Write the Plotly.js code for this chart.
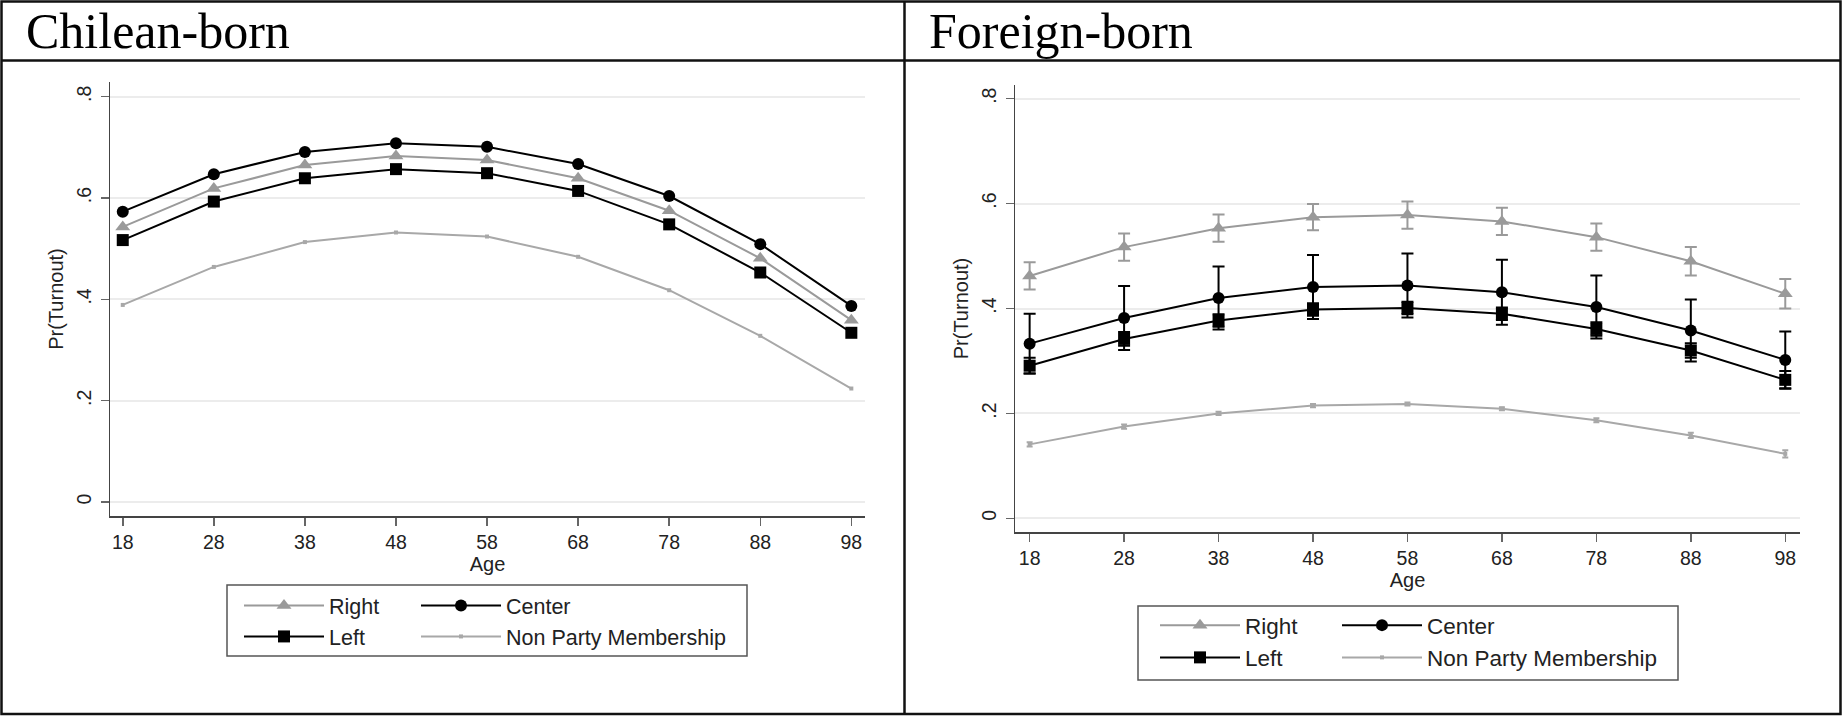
<!DOCTYPE html>
<html>
<head>
<meta charset="utf-8">
<script src="https://cdn.plot.ly/plotly-3.0.1.min.js"></script>
<style>
  html, body { margin: 0; padding: 0; background: #fff; }
  #chart { width: 1842px; height: 716px; }
</style>
</head>
<body>
<div id="chart"></div>
<script>
// predicted turnout by age and party membership
const ages = [18, 28, 38, 48, 58, 68, 78, 88, 98];
const ageTicks = ["18", "28", "38", "48", "58", "68", "78", "88", "98"];
const probTicks = [0, 0.2, 0.4, 0.6, 0.8];
const probTickText = ["0", ".2", ".4", ".6", ".8"];
const seriesNames = ["Right", "Center", "Left", "Non Party Membership"];
const panelTitles = ["Chilean-born", "Foreign-born"];

// Chilean-born
const rightCl = [0.543, 0.619, 0.665, 0.683, 0.675, 0.639, 0.575, 0.481, 0.359];
const centerCl = [0.573, 0.647, 0.691, 0.708, 0.701, 0.667, 0.604, 0.509, 0.387];
const leftCl = [0.517, 0.593, 0.639, 0.657, 0.649, 0.614, 0.548, 0.453, 0.334];
const nonPartyCl = [0.389, 0.464, 0.513, 0.532, 0.524, 0.484, 0.418, 0.328, 0.224];

// Foreign-born, with CI half-widths
const rightFb = [0.462, 0.517, 0.553, 0.574, 0.578, 0.566, 0.536, 0.490, 0.428];
const rightFbErr = [0.026, 0.026, 0.026, 0.025, 0.026, 0.026, 0.026, 0.027, 0.028];
const centerFb = [0.333, 0.382, 0.420, 0.441, 0.444, 0.431, 0.403, 0.358, 0.302];
const centerFbErr = [0.057, 0.061, 0.060, 0.061, 0.061, 0.062, 0.060, 0.059, 0.054];
const leftFb = [0.291, 0.342, 0.377, 0.398, 0.401, 0.390, 0.361, 0.320, 0.264];
const leftFbErr = [0.015, 0.013, 0.012, 0.012, 0.012, 0.012, 0.013, 0.014, 0.017];
const nonPartyFb = [0.141, 0.175, 0.200, 0.215, 0.218, 0.209, 0.187, 0.158, 0.123];
const nonPartyFbErr = [0.004, 0.004, 0.003, 0.003, 0.003, 0.003, 0.004, 0.005, 0.007];

const W = 1842, H = 716;
const px = x => x / W;          // pixel -> paper x
const py = y => (H - y) / H;    // pixel (from top) -> paper y

const gray = "#9a9a9a";
const lightGray = "#a8a8a8";
const black = "#000";

const styles = [
  { color: gray, symbol: "triangle-up", size: 13 },
  { color: black, symbol: "circle", size: 12 },
  { color: black, symbol: "square", size: 12 },
  { color: lightGray, symbol: "square", size: 4 }
];
// legend column for each series: Right/Left in col 1, Center/Non Party in col 2
const legendCol = [0, 1, 0, 1];

function makeTrace(idx, y, err, panel) {
  const s = styles[idx];
  const legendIds = panel === 0 ? ["legend", "legend2"] : ["legend3", "legend4"];
  const t = {
    x: ages,
    y: y,
    type: "scatter",
    mode: "lines+markers",
    name: seriesNames[idx],
    xaxis: panel === 0 ? "x" : "x2",
    yaxis: panel === 0 ? "y" : "y2",
    legend: legendIds[legendCol[idx]],
    line: { color: s.color, width: 2 },
    marker: { color: s.color, symbol: s.symbol, size: s.size, line: { width: 0 } },
    hoverinfo: "x+y+name"
  };
  if (err) {
    t.error_y = { type: "data", array: err, visible: true, color: s.color, thickness: 2, width: idx === 3 ? 3 : 6 };
  }
  return t;
}

// draw order keeps Left above the Center whiskers
const traces = [
  makeTrace(3, nonPartyCl, null, 0),
  makeTrace(0, rightCl, null, 0),
  makeTrace(1, centerCl, null, 0),
  makeTrace(2, leftCl, null, 0),
  makeTrace(3, nonPartyFb, nonPartyFbErr, 1),
  makeTrace(0, rightFb, rightFbErr, 1),
  makeTrace(1, centerFb, centerFbErr, 1),
  makeTrace(2, leftFb, leftFbErr, 1)
];
// legend item order: put Right before Left, Center before Non Party
traces.forEach(t => { t.legendrank = seriesNames.indexOf(t.name); });

const tickFont = { family: "Liberation Sans, Arial, sans-serif", size: 19.5, color: "#222" };
const titleFont = { family: "Liberation Sans, Arial, sans-serif", size: 20, color: "#222" };

function xAxis(domain, range, anchor) {
  return {
    domain: domain, range: range, anchor: anchor,
    tickmode: "array", tickvals: ages, ticktext: ageTicks,
    ticks: "outside", ticklen: 8, tickwidth: 1.5, tickcolor: "#666",
    showline: true, linecolor: "#444", linewidth: 1.5,
    showgrid: false, zeroline: false,
    tickfont: tickFont,
    title: { text: "Age", font: titleFont, standoff: 1 },
    fixedrange: true
  };
}
function yAxis(domain, range, anchor) {
  return {
    domain: domain, range: range, anchor: anchor,
    tickmode: "array", tickvals: probTicks, ticktext: probTickText,
    tickangle: -90,
    ticks: "outside", ticklen: 8, tickwidth: 1.5, tickcolor: "#666",
    showline: true, linecolor: "#444", linewidth: 1.5,
    showgrid: true, gridcolor: "#ececec", gridwidth: 2, zeroline: false,
    tickfont: tickFont, ticklabelstandoff: 2,
    title: { text: "Pr(Turnout)", font: titleFont, standoff: 3 },
    fixedrange: true
  };
}

function legendAt(xPix, yPix, size) {
  return {
    x: px(xPix), y: py(yPix), xanchor: "left", yanchor: "top",
    orientation: "v", bgcolor: "rgba(0,0,0,0)", borderwidth: 0,
    itemwidth: 80, itemclick: false, itemdoubleclick: false,
    font: { family: "Liberation Sans, Arial, sans-serif", size: size, color: "#222" }
  };
}

const borderLine = { color: "#111", width: 2.5 };
const layout = {
  width: W, height: H,
  margin: { l: 0, r: 0, t: 0, b: 0, pad: 0 },
  paper_bgcolor: "#fff", plot_bgcolor: "#fff",
  showlegend: true,
  xaxis: xAxis([px(110), px(865)], [16.6, 99.5], "y"),
  yaxis: yAxis([py(516), py(82)], [-0.0276, 0.829], "x"),
  xaxis2: xAxis([px(1015), px(1800)], [16.45, 99.56], "y2"),
  yaxis2: yAxis([py(532), py(85)], [-0.026, 0.826], "x2"),
  legend: legendAt(239, 585, 21.5),
  legend2: legendAt(416, 585, 21.5),
  legend3: legendAt(1155, 604, 22.5),
  legend4: legendAt(1337, 604, 22.5),
  annotations: panelTitles.map((t, i) => ({
    text: t, xref: "paper", yref: "paper",
    x: px(i === 0 ? 24 : 927), y: py(31), xanchor: "left", yanchor: "middle",
    showarrow: false,
    font: { family: "Liberation Serif, Times New Roman, serif", size: 50, color: "#000" }
  })),
  shapes: [
    // table frame
    { type: "rect", xref: "paper", yref: "paper", x0: px(1.5), x1: px(1840.5), y0: py(714), y1: py(1.5), line: borderLine },
    { type: "line", xref: "paper", yref: "paper", x0: px(904.5), x1: px(904.5), y0: py(714), y1: py(1.5), line: borderLine },
    { type: "line", xref: "paper", yref: "paper", x0: px(1.5), x1: px(1840.5), y0: py(60.5), y1: py(60.5), line: borderLine },
    // legend boxes
    { type: "rect", xref: "paper", yref: "paper", x0: px(227), x1: px(747), y0: py(656), y1: py(585), line: { color: "#555", width: 1.5 } },
    { type: "rect", xref: "paper", yref: "paper", x0: px(1138), x1: px(1678), y0: py(680), y1: py(606), line: { color: "#555", width: 1.5 } }
  ]
};

Plotly.newPlot("chart", traces, layout, { displayModeBar: false, staticPlot: true });
</script>
</body>
</html>
